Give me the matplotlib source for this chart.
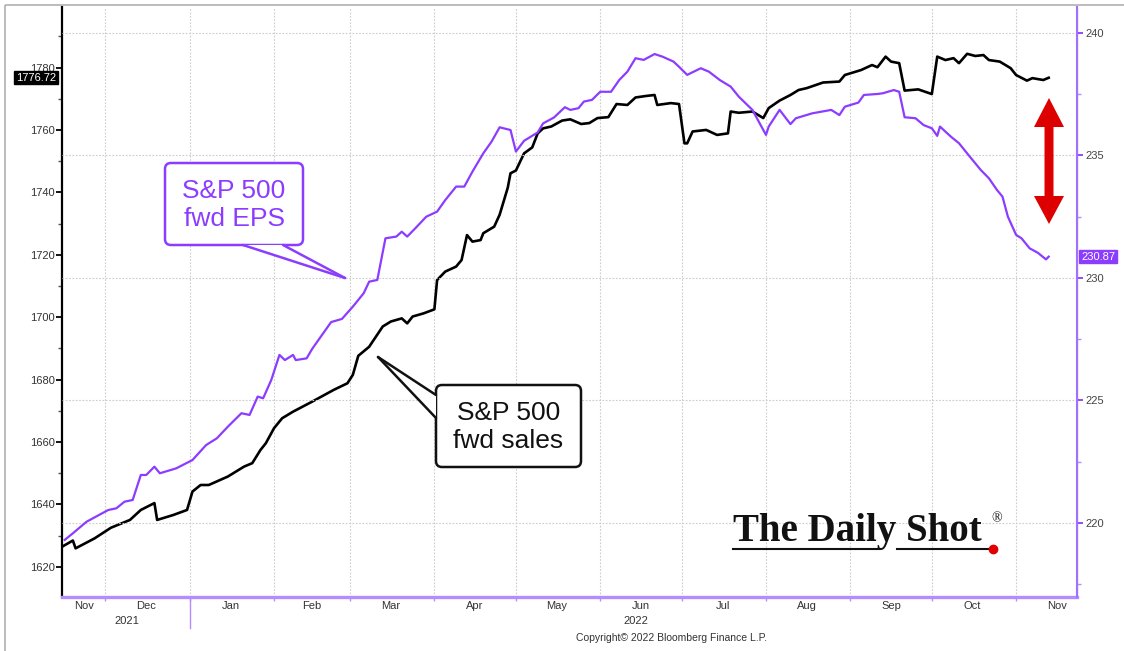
import matplotlib
matplotlib.use("Agg")
import matplotlib.pyplot as plt
import matplotlib.dates as mdates
from matplotlib.ticker import MultipleLocator, FixedLocator, NullFormatter, FixedFormatter
from matplotlib.patches import FancyBboxPatch, Polygon, Rectangle
from matplotlib.lines import Line2D
from matplotlib.transforms import Affine2D, blended_transform_factory
import pandas as pd

# S&P 500 fwd sales (left axis)
sales_dates = ['2021-11-15', '2021-11-19', '2021-11-20', '2021-11-27', '2021-12-03', '2021-12-10',
               '2021-12-14', '2021-12-19', '2021-12-20', '2021-12-26', '2021-12-31', '2022-01-02',
               '2022-01-05', '2022-01-08', '2022-01-15', '2022-01-21', '2022-01-24', '2022-01-27',
               '2022-01-29', '2022-02-01', '2022-02-04', '2022-02-08', '2022-02-15', '2022-02-23',
               '2022-02-28', '2022-03-02', '2022-03-04', '2022-03-08', '2022-03-13', '2022-03-16',
               '2022-03-20', '2022-03-22', '2022-03-24', '2022-03-28', '2022-04-01', '2022-04-02',
               '2022-04-05', '2022-04-09', '2022-04-11', '2022-04-13', '2022-04-15', '2022-04-18',
               '2022-04-19', '2022-04-23', '2022-04-25', '2022-04-28', '2022-04-29', '2022-05-01',
               '2022-05-04', '2022-05-07', '2022-05-09', '2022-05-11', '2022-05-14', '2022-05-18',
               '2022-05-21', '2022-05-25', '2022-05-28', '2022-05-31', '2022-06-04', '2022-06-07',
               '2022-06-11', '2022-06-14', '2022-06-18', '2022-06-21', '2022-06-22', '2022-06-27',
               '2022-06-30', '2022-07-02', '2022-07-03', '2022-07-05', '2022-07-10', '2022-07-14',
               '2022-07-18', '2022-07-19', '2022-07-22', '2022-07-27', '2022-07-31', '2022-08-02',
               '2022-08-06', '2022-08-10', '2022-08-13', '2022-08-16', '2022-08-22', '2022-08-28',
               '2022-08-30', '2022-09-05', '2022-09-09', '2022-09-11', '2022-09-14', '2022-09-16',
               '2022-09-19', '2022-09-21', '2022-09-26', '2022-10-01', '2022-10-03', '2022-10-06',
               '2022-10-09', '2022-10-11', '2022-10-14', '2022-10-17', '2022-10-20', '2022-10-22',
               '2022-10-26', '2022-10-30', '2022-11-01', '2022-11-05', '2022-11-07', '2022-11-11',
               '2022-11-13']
sales_vals = [1626.4, 1628.4, 1625.9, 1629.1, 1632.5, 1635.0,
              1638.2, 1640.4, 1635.0, 1636.6, 1638.2, 1644.1,
              1646.2, 1646.2, 1648.9, 1652.1, 1653.2, 1657.4,
              1659.6, 1664.4, 1667.6, 1669.7, 1672.9, 1676.7,
              1678.8, 1681.5, 1687.6, 1690.5, 1697.0, 1698.6,
              1699.6, 1698.0, 1700.2, 1701.2, 1702.5, 1711.9,
              1714.6, 1716.2, 1718.3, 1726.3, 1724.2, 1724.7,
              1726.9, 1729.0, 1732.8, 1741.5, 1746.1, 1747.0,
              1752.5, 1754.4, 1758.9, 1760.5, 1761.1, 1763.0,
              1763.4, 1761.9, 1762.2, 1763.8, 1764.1, 1768.3,
              1768.0, 1770.4, 1770.9, 1771.2, 1768.0, 1768.6,
              1768.3, 1755.7, 1755.7, 1759.5, 1760.0, 1758.4,
              1758.9, 1765.9, 1765.5, 1765.9, 1763.8, 1767.0,
              1769.4, 1771.2, 1772.8, 1773.4, 1775.2, 1775.5,
              1777.6, 1779.2, 1780.8, 1780.1, 1783.5, 1781.9,
              1781.4, 1772.6, 1773.0, 1771.5, 1783.5, 1782.4,
              1783.0, 1781.4, 1784.4, 1783.7, 1784.0, 1782.4,
              1781.9, 1779.8, 1777.6, 1775.8, 1776.6, 1776.0,
              1776.72]

# S&P 500 fwd EPS (right axis)
eps_dates = ['2021-11-16', '2021-11-19', '2021-11-24', '2021-12-02', '2021-12-05', '2021-12-08',
             '2021-12-11', '2021-12-14', '2021-12-16', '2021-12-19', '2021-12-21', '2021-12-27',
             '2022-01-02', '2022-01-07', '2022-01-11', '2022-01-15', '2022-01-20', '2022-01-23',
             '2022-01-26', '2022-01-28', '2022-01-31', '2022-02-03', '2022-02-05', '2022-02-08',
             '2022-02-09', '2022-02-13', '2022-02-15', '2022-02-22', '2022-02-26', '2022-03-02',
             '2022-03-06', '2022-03-08', '2022-03-11', '2022-03-14', '2022-03-18', '2022-03-20',
             '2022-03-22', '2022-03-25', '2022-03-29', '2022-04-02', '2022-04-05', '2022-04-09',
             '2022-04-12', '2022-04-15', '2022-04-19', '2022-04-22', '2022-04-25', '2022-04-29',
             '2022-05-01', '2022-05-04', '2022-05-09', '2022-05-11', '2022-05-15', '2022-05-19',
             '2022-05-21', '2022-05-24', '2022-05-26', '2022-05-29', '2022-06-01', '2022-06-05',
             '2022-06-08', '2022-06-11', '2022-06-14', '2022-06-17', '2022-06-21', '2022-06-24',
             '2022-06-28', '2022-06-30', '2022-07-03', '2022-07-08', '2022-07-11', '2022-07-15',
             '2022-07-19', '2022-07-22', '2022-07-27', '2022-07-29', '2022-08-01', '2022-08-02',
             '2022-08-06', '2022-08-10', '2022-08-12', '2022-08-18', '2022-08-25', '2022-08-28',
             '2022-08-30', '2022-09-04', '2022-09-06', '2022-09-11', '2022-09-13', '2022-09-17',
             '2022-09-19', '2022-09-21', '2022-09-25', '2022-09-28', '2022-10-01', '2022-10-03',
             '2022-10-04', '2022-10-08', '2022-10-11', '2022-10-15', '2022-10-19', '2022-10-22',
             '2022-10-25', '2022-10-27', '2022-10-29', '2022-11-01', '2022-11-03', '2022-11-06',
             '2022-11-09', '2022-11-12', '2022-11-13']
eps_vals = [219.31, 219.58, 220.05, 220.53, 220.60, 220.87,
            220.94, 221.96, 221.96, 222.30, 222.03, 222.23,
            222.57, 223.18, 223.46, 223.93, 224.48, 224.41,
            225.16, 225.09, 225.84, 226.86, 226.65, 226.86,
            226.65, 226.72, 227.10, 228.20, 228.33, 228.83,
            229.38, 229.85, 229.92, 231.62, 231.69, 231.89,
            231.69, 232.03, 232.50, 232.71, 233.18, 233.73,
            233.73, 234.34, 235.09, 235.56, 236.15, 236.04,
            235.16, 235.60, 235.94, 236.31, 236.55, 236.97,
            236.86, 236.93, 237.20, 237.27, 237.60, 237.60,
            238.08, 238.42, 238.97, 238.90, 239.14, 239.03,
            238.83, 238.62, 238.29, 238.56, 238.42, 238.08,
            237.81, 237.40, 236.86, 236.45, 235.84, 236.18,
            236.86, 236.28, 236.52, 236.72, 236.86, 236.65,
            236.99, 237.16, 237.47, 237.51, 237.54, 237.67,
            237.60, 236.56, 236.52, 236.24, 236.11, 235.80,
            236.18, 235.77, 235.50, 234.95, 234.41, 234.07,
            233.59, 233.32, 232.50, 231.76, 231.62, 231.21,
            231.03, 230.76, 230.87]

month_names = ['Nov', 'Dec', 'Jan', 'Feb', 'Mar', 'Apr', 'May', 'Jun',
               'Jul', 'Aug', 'Sep', 'Oct', 'Nov']
month_label_dates = ['2021-11-23', '2021-12-16', '2022-01-16', '2022-02-15', '2022-03-16',
                     '2022-04-16', '2022-05-16', '2022-06-16', '2022-07-16', '2022-08-16',
                     '2022-09-16', '2022-10-16', '2022-11-16']
month_starts = ['2021-12-01', '2022-01-01', '2022-02-01', '2022-03-01', '2022-04-01',
                '2022-05-01', '2022-06-01', '2022-07-01', '2022-08-01', '2022-09-01',
                '2022-10-01', '2022-11-01']
left_ticks = [1620, 1640, 1660, 1680, 1700, 1720, 1740, 1760, 1780]
right_ticks = [220, 225, 230, 235, 240]

purple = '#8c3cff'
purple_light = '#b48cff'
grid_c = '#cccccc'
narrow = ['Liberation Sans Narrow', 'Liberation Sans', 'DejaVu Sans']

plt.rcParams['font.family'] = ['Liberation Sans', 'DejaVu Sans']

W, H = 1124, 651
fig = plt.figure(figsize=(W / 100, H / 100), dpi=100)
# pixel transform, y measured from the top
pix = Affine2D().scale(1, -1).translate(0, H)

ax = fig.add_axes([62 / W, 1 - 597 / H, (1077 - 62) / W, (597 - 7) / H])
ax2 = ax.twinx()

sd = pd.to_datetime(sales_dates)
ed = pd.to_datetime(eps_dates)
ax.plot(sd, sales_vals, color='black', lw=1.9, zorder=3)
ax2.plot(ed, eps_vals, color=purple, lw=1.6, zorder=3)

ax.set_xlim(pd.Timestamp('2021-11-15'), pd.Timestamp('2022-11-23 10:00'))
ax.set_ylim(1610.3, 1799.4)
ax2.set_ylim(216.98, 241.06)

# x axis: ticks at month starts, labels mid-month
ax.xaxis.set_major_locator(FixedLocator(mdates.date2num(pd.to_datetime(month_starts))))
ax.xaxis.set_major_formatter(NullFormatter())
ax.xaxis.set_minor_locator(FixedLocator(mdates.date2num(pd.to_datetime(month_label_dates))))
ax.xaxis.set_minor_formatter(FixedFormatter(month_names))
ax.tick_params(axis='x', which='major', length=3, width=1, color=purple_light, direction='out')
ax.tick_params(axis='x', which='minor', length=0, pad=3, labelsize=8, labelcolor='#333333')
for t in ax.xaxis.get_minorticklabels():
    t.set_fontfamily(narrow)
ax.grid(axis='x', which='major', color=grid_c, ls=(0, (1.5, 1.5)), lw=0.8)

# left axis
ax.set_yticks(left_ticks)
ax.yaxis.set_minor_locator(MultipleLocator(10))
ax.tick_params(axis='y', which='major', length=4, width=1.3, color='black', labelsize=8,
               labelcolor='#333333', pad=1)
ax.tick_params(axis='y', which='minor', length=3, width=1, color='#555555')
for t in ax.get_yticklabels():
    t.set_fontfamily(narrow)

# right axis
ax2.set_yticks(right_ticks)
ax2.yaxis.set_minor_locator(MultipleLocator(2.5))
ax2.tick_params(axis='y', which='major', length=4, width=1.3, color=purple, labelsize=8,
                labelcolor='#444444', pad=2)
ax2.tick_params(axis='y', which='minor', length=3, width=1, color=purple_light)
for t in ax2.get_yticklabels():
    t.set_fontfamily(narrow)
ax2.grid(axis='y', which='major', color=grid_c, ls=(0, (1.5, 1.5)), lw=0.8)

for a in (ax, ax2):
    a.spines['top'].set_visible(False)
ax.spines['left'].set_color('black')
ax.spines['left'].set_linewidth(1.6)
ax.spines['bottom'].set_color(purple_light)
ax.spines['bottom'].set_linewidth(2.4)
ax2.spines['right'].set_color('#a070ff')
ax2.spines['right'].set_linewidth(1.5)
ax2.spines['left'].set_visible(False)
ax2.spines['bottom'].set_visible(False)

# year labels and separator
xt = blended_transform_factory(ax.transData, ax.transAxes)
ax.text(pd.Timestamp('2021-12-09'), -0.033, '2021', transform=xt, ha='center', va='top',
        fontsize=8, color='#333333', fontfamily=narrow)
ax.text(pd.Timestamp('2022-06-14'), -0.033, '2022', transform=xt, ha='center', va='top',
        fontsize=8, color='#333333', fontfamily=narrow)
ax.axvline(pd.Timestamp('2022-01-01'), ymin=-0.053, ymax=-0.004, clip_on=False,
           color=purple_light, lw=1)

# last value tags
yt = blended_transform_factory(ax.transAxes, ax.transData)
ax.text(-0.006, sales_vals[-1], f'{sales_vals[-1]:.2f}', transform=yt, ha='right', va='center',
        fontsize=8, color='white', fontfamily=narrow, zorder=6,
        bbox=dict(boxstyle='square,pad=0.15', fc='black', ec='black'))
yt2 = blended_transform_factory(ax2.transAxes, ax2.transData)
ax2.text(1.004, eps_vals[-1], f'{eps_vals[-1]:.2f}', transform=yt2, ha='left', va='center',
         fontsize=8, color='white', fontfamily=narrow, zorder=6,
         bbox=dict(boxstyle='square,pad=0.15', fc=purple, ec=purple))

# copyright
fig.text(672, 638, 'Copyright\u00a9 2022 Bloomberg Finance L.P.', transform=pix, ha='center',
         va='center', fontsize=7.5, color='#333333', fontfamily=narrow)


def callout(x0, y0, x1, y1, base_a, base_b, tip, color, label):
    box = FancyBboxPatch((x0, y0), x1 - x0, y1 - y0, boxstyle='round,pad=0,rounding_size=6',
                         transform=pix, fc='white', ec=color, lw=1.8, zorder=10)
    fig.add_artist(box)
    cover = Polygon([base_a, base_b, tip], closed=True, transform=pix, fc='white', ec='none',
                    zorder=11)
    fig.add_artist(cover)
    for b in (base_a, base_b):
        fig.add_artist(Line2D([b[0], tip[0]], [b[1], tip[1]], transform=pix, color=color,
                              lw=1.8, zorder=12, solid_capstyle='round'))
    fig.text((x0 + x1) / 2, (y0 + y1) / 2 + 1, label, transform=pix, ha='center', va='center',
             fontsize=19, color=color, linespacing=1.2, zorder=13)


callout(165, 163, 303, 245, (243, 245), (283, 245), (345, 278), purple, 'S&P 500\nfwd EPS')
callout(436, 385, 581, 467, (436, 395), (436, 418), (378, 357), '#111111', 'S&P 500\nfwd sales')

# red double arrow
arrow_pts = [(1049, 98), (1064, 127), (1053.5, 127), (1053.5, 196), (1064, 196), (1049, 224),
             (1034, 196), (1044.5, 196), (1044.5, 127), (1034, 127)]
fig.add_artist(Polygon(arrow_pts, closed=True, transform=pix, fc='#dd0000', ec='none', zorder=9))

# logo
fig.text(733, 541, 'The Daily Shot', transform=pix, ha='left', va='baseline', fontsize=28,
         fontweight='bold', fontfamily=['Liberation Serif', 'DejaVu Serif'], color='#111111',
         zorder=9)
fig.text(991, 519, '\u00ae', transform=pix, ha='left', va='center', fontsize=10,
         fontfamily=['Liberation Serif', 'DejaVu Serif'], color='#111111', zorder=9)
fig.add_artist(Line2D([733, 880], [549, 549], transform=pix, color='#111111', lw=1.5, zorder=9))
fig.add_artist(Line2D([897, 993], [549, 549], transform=pix, color='#111111', lw=1.5, zorder=9))
fig.add_artist(Line2D([993], [549], transform=pix, marker='o', ms=6, color='#e00000',
                      ls='none', zorder=9))

# outer frame
fig.add_artist(Rectangle((5, 5), W, H, transform=pix, fill=False, ec='#b0b0b0', lw=1.2))

fig.savefig('out.png', dpi=100)
